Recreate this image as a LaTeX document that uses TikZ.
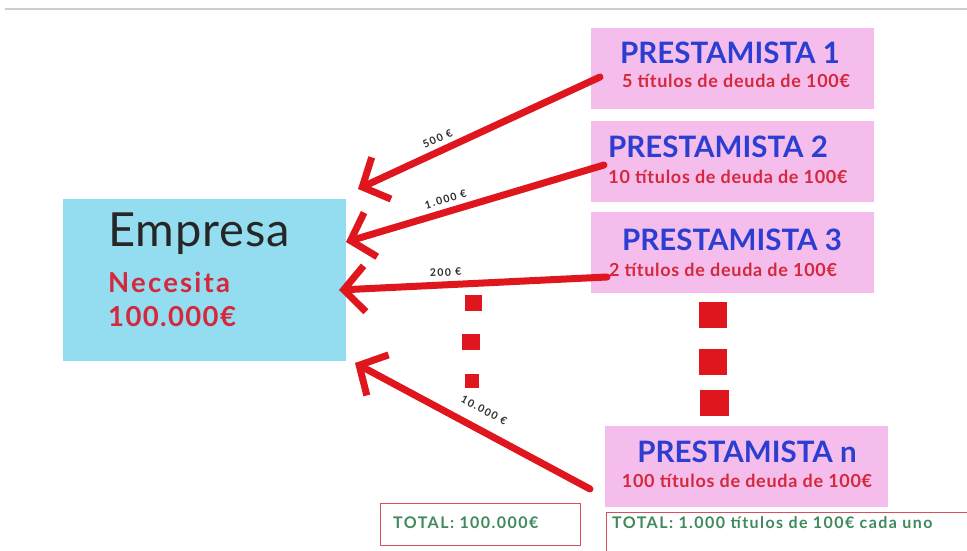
\documentclass[tikz,border=0pt]{standalone}
\usepackage{fontspec}
\setmainfont{Lato}
\usetikzlibrary{arrows.meta}
\definecolor{pinkbox}{HTML}{F4BDEC}
\definecolor{bluebox}{HTML}{94DCEF}
\definecolor{titleblue}{HTML}{2C3ED2}
\definecolor{subred}{HTML}{D4283C}
\definecolor{arrowred}{HTML}{E0161F}
\definecolor{totgreen}{HTML}{3E8A5C}
\definecolor{lblgray}{HTML}{2E2E2E}
\definecolor{framered}{HTML}{D9505C}
\tikzset{
  lender/.style={fill=pinkbox, draw=none, inner sep=0pt, minimum width=283pt, minimum height=81pt},
  ltitle/.style={anchor=base, text=titleblue, font=\fontsize{29.5}{30}\selectfont\bfseries, inner sep=0pt},
  lsub/.style={anchor=base, text=subred, font=\fontsize{18}{18}\selectfont\bfseries\addfontfeature{LetterSpace=4}, inner sep=0pt},
  flow/.style={draw=arrowred, line width=7pt, line cap=round, line join=round,
    -{Straight Barb[length=21pt,width=46pt,line width=7pt]}},
  amount/.style={sloped, above=5pt, text=lblgray, font=\fontsize{10.5}{10.5}\selectfont\bfseries\addfontfeature{LetterSpace=14}, inner sep=0pt},
  dot/.style={fill=arrowred, draw=none, inner sep=0pt},
  totbox/.style={draw=framered, line width=1pt, fill=none, inner sep=0pt},
  tottext/.style={anchor=base west, text=totgreen, font=\fontsize{16}{16}\selectfont\bfseries\addfontfeature{LetterSpace=9}, inner sep=0pt}
}
\begin{document}
\begin{tikzpicture}[x=1pt,y=-1pt]
\useasboundingbox (0,0) rectangle (967,550);
\fill[white] (0,0) rectangle (967,550);
% top rule
\draw[draw=black!20, line width=1.5pt] (5,9) -- (967,9);

% Empresa
\node[fill=bluebox, inner sep=0pt, minimum width=283pt, minimum height=162pt] (emp) at (204.5,280) {};
\node[anchor=base west, inner sep=0pt, text=black!85, font=\fontsize{47}{47}\selectfont\addfontfeature{LetterSpace=2}] (empt) at (108,246) {Empresa};
\node[anchor=base west, inner sep=0pt, text=subred, font=\fontsize{27.5}{28}\selectfont\bfseries\addfontfeature{LetterSpace=8}] (nec) at (108,292) {Necesita};
\node[anchor=base west, inner sep=0pt, text=subred, font=\fontsize{27.5}{28}\selectfont\bfseries\addfontfeature{LetterSpace=5}] (cant) at (108,326) {100.000€};

% lenders
\node[lender] (p1) at (732.5,68) {};
\node[ltitle] (p1t) at (730,63) {PRESTAMISTA 1};
\node[lsub] (p1s) at (736,87) {5 títulos de deuda de 100€};

\node[lender] (p2) at (732.5,161) {};
\node[ltitle] (p2t) at (718,157) {PRESTAMISTA 2};
\node[lsub] (p2s) at (728,183) {10 títulos de deuda de 100€};

\node[lender] (p3) at (732.5,252.5) {};
\node[ltitle] (p3t) at (732,250) {PRESTAMISTA 3};
\node[lsub] (p3s) at (723,276) {2 títulos de deuda de 100€};

\node[lender] (pn) at (746,466.5) {};
\node[ltitle] (pnt) at (747,462) {PRESTAMISTA n};
\node[lsub] (pns) at (747,487) {100 títulos de deuda de 100€};

% dots
\node[dot, minimum width=17pt, minimum height=16pt] (d1) at (473.5,303) {};
\node[dot, minimum width=18pt, minimum height=16pt] (d2) at (471,342) {};
\node[dot, minimum width=14pt, minimum height=14pt] (d3) at (472,381) {};
\node[dot, minimum width=28pt, minimum height=26pt] (e1) at (713,315) {};
\node[dot, minimum width=28pt, minimum height=26pt] (e2) at (713,362) {};
\node[dot, minimum width=29pt, minimum height=26pt] (e3) at (714.5,403) {};

% totals
\node[totbox, minimum width=200pt, minimum height=42pt] (tl) at (480,524) {};
\node[tottext] (tlt) at (393,528) {TOTAL: 100.000€};
\draw[framered, line width=1pt] (606,560) |- (975,512);
\coordinate (trc) at (606,512);
\node[tottext] (trt) at (612,528) {TOTAL: 1.000 títulos de 100€ cada uno};

% arrows
\coordinate (s1) at (600,77);  \coordinate (t1) at (358,189);
\coordinate (s2) at (604,165); \coordinate (t2) at (346,242);
\coordinate (s3) at (607,277); \coordinate (t3) at (339,290);
\coordinate (s4) at (590,489); \coordinate (t4) at (355,363);
\draw[flow] (s1) -- node[amount, pos=0.65] {500 €} (t1);
\draw[flow] (s2) -- node[amount, pos=0.6] {1.000 €} (t2);
\draw[flow] (s3) -- node[amount, pos=0.6] {200 €} (t3);
\draw[flow] (s4) -- node[amount, pos=0.49, above=7pt] {10.000 €} (t4);
\end{tikzpicture}
\end{document}
